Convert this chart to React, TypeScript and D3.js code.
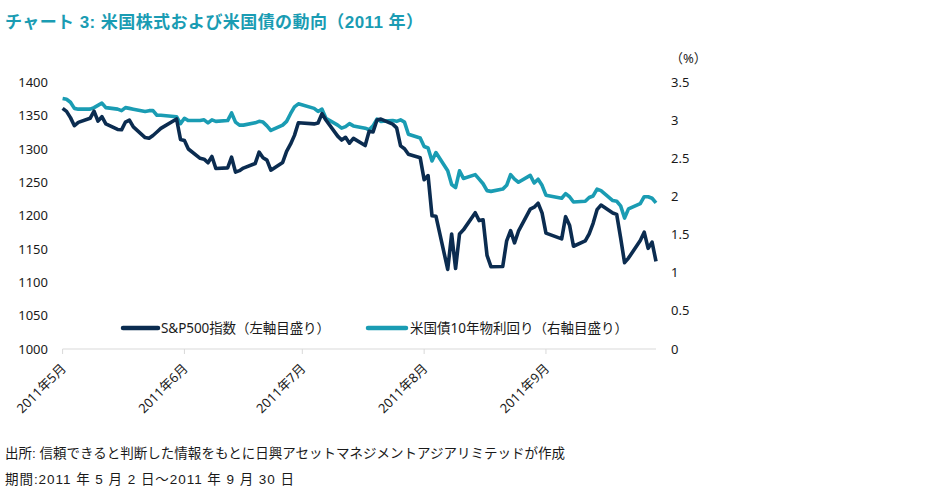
import React from "react";
import * as d3 from "d3";

const dates: string[] = [
  "2011-05-02","2011-05-03","2011-05-04","2011-05-05","2011-05-06","2011-05-09","2011-05-10","2011-05-11","2011-05-12","2011-05-13",
  "2011-05-16","2011-05-17","2011-05-18","2011-05-19","2011-05-20","2011-05-23","2011-05-24","2011-05-25","2011-05-26","2011-05-27","2011-05-31",
  "2011-06-01","2011-06-02","2011-06-03","2011-06-06","2011-06-07","2011-06-08","2011-06-09","2011-06-10","2011-06-13","2011-06-14",
  "2011-06-15","2011-06-16","2011-06-17","2011-06-20","2011-06-21","2011-06-22","2011-06-23","2011-06-24","2011-06-27","2011-06-28","2011-06-29","2011-06-30",
  "2011-07-01","2011-07-05","2011-07-06","2011-07-07","2011-07-08","2011-07-11","2011-07-12","2011-07-13","2011-07-14","2011-07-15",
  "2011-07-18","2011-07-19","2011-07-20","2011-07-21","2011-07-22","2011-07-25","2011-07-26","2011-07-27","2011-07-28","2011-07-29",
  "2011-08-01","2011-08-02","2011-08-03","2011-08-04","2011-08-05","2011-08-08","2011-08-09","2011-08-10","2011-08-11","2011-08-12",
  "2011-08-15","2011-08-16","2011-08-17","2011-08-18","2011-08-19","2011-08-22","2011-08-23","2011-08-24","2011-08-25","2011-08-26",
  "2011-08-29","2011-08-30","2011-08-31",
  "2011-09-01","2011-09-02","2011-09-06","2011-09-07","2011-09-08","2011-09-09","2011-09-12","2011-09-13","2011-09-14","2011-09-15","2011-09-16",
  "2011-09-19","2011-09-20","2011-09-21","2011-09-22","2011-09-23","2011-09-26","2011-09-27","2011-09-28","2011-09-29","2011-09-30",
];

const sp500: number[] = [
  1361.22,1356.62,1347.32,1335.10,1340.20,1346.29,1357.16,1342.08,1348.65,1337.77,
  1329.47,1328.98,1340.68,1343.60,1333.27,1317.37,1316.28,1320.47,1325.69,1331.10,1345.20,
  1314.55,1312.94,1300.16,1286.17,1284.94,1279.56,1289.00,1270.98,1271.83,1287.87,
  1265.42,1267.64,1271.50,1278.36,1295.52,1287.14,1283.50,1268.45,1280.10,1296.67,1307.41,1320.64,
  1339.67,1337.88,1339.22,1353.22,1343.80,1319.49,1313.64,1317.72,1308.87,1316.14,
  1305.44,1326.73,1325.84,1343.80,1345.02,1337.43,1331.94,1304.89,1300.67,1292.28,
  1286.94,1254.05,1260.34,1200.07,1199.38,1119.46,1172.53,1120.76,1172.64,1178.81,
  1204.49,1192.76,1193.89,1140.65,1123.53,1123.82,1162.35,1177.60,1159.27,1176.80,
  1210.08,1212.92,1218.89,
  1204.42,1173.97,1165.24,1198.62,1185.90,1154.23,1162.27,1172.87,1188.68,1209.11,1216.01,
  1204.09,1202.09,1166.76,1129.56,1136.43,1162.95,1175.38,1151.06,1160.40,1131.42,
];

const ust10y: number[] = [
  3.29,3.28,3.24,3.16,3.15,3.15,3.17,3.20,3.23,3.17,
  3.15,3.13,3.17,3.16,3.15,3.12,3.13,3.13,3.07,3.07,3.05,
  2.96,3.03,3.00,3.00,3.01,2.97,3.01,2.99,3.00,3.10,
  2.98,2.94,2.94,2.97,2.99,2.98,2.93,2.87,2.94,2.99,3.09,3.18,
  3.22,3.16,3.12,3.15,3.03,2.94,2.90,2.92,2.96,2.93,
  2.90,2.88,2.93,3.02,2.99,3.00,2.99,3.01,2.98,2.82,
  2.77,2.66,2.64,2.47,2.58,2.34,2.16,2.12,2.34,2.24,
  2.29,2.23,2.17,2.08,2.07,2.10,2.15,2.29,2.23,2.19,
  2.28,2.18,2.23,
  2.15,2.02,1.98,2.04,2.00,1.93,1.94,1.99,2.01,2.10,2.08,
  1.95,1.94,1.88,1.72,1.84,1.91,2.00,2.00,1.98,1.92,
];

const leftTicks: number[] = [1000, 1050, 1100, 1150, 1200, 1250, 1300, 1350, 1400];
const rightTicks: number[] = [0, 0.5, 1, 1.5, 2, 2.5, 3, 3.5];
const xTickDates: string[] = ["2011-05-02", "2011-06-02", "2011-07-02", "2011-08-02", "2011-09-02"];
const xTickLabels: string[] = ["2011年5月", "2011年6月", "2011年7月", "2011年8月", "2011年9月"];

const titleText = "チャート 3: 米国株式および米国債の動向（2011 年）";
const legendLabels: string[] = ["S&P500指数（左軸目盛り）", "米国債10年物利回り（右軸目盛り）"];
const footer1 = "出所: 信頼できると判断した情報をもとに日興アセットマネジメントアジアリミテッドが作成";
const footer2 = "期間:2011 年 5 月 2 日～2011 年 9 月 30 日";

const NAVY = "#0b2c50";
const TEAL = "#1a9cb3";

export default function App() {
  const W = 926, H = 493;
  const parse = (s: string) => new Date(s + "T00:00:00Z");
  const x = d3.scaleUtc().domain([parse("2011-05-02"), parse("2011-09-30")]).range([62.6, 656]);
  const yL = d3.scaleLinear().domain([1000, 1400]).range([349, 82.5]);
  const yR = d3.scaleLinear().domain([0, 3.5]).range([349, 82.5]);

  const spLine = d3.line<number>()
    .x((_, i) => x(parse(dates[i])))
    .y((d) => yL(d));
  const ylLine = d3.line<number>()
    .x((_, i) => x(parse(dates[i])))
    .y((d) => yR(d));

  const axisFont = "'Noto Sans', 'Noto Sans CJK JP', sans-serif";
  const cjkFont = "'Liberation Sans', 'Noto Sans CJK JP', sans-serif";

  return (
    <svg width={W} height={H} style={{ position: "absolute", left: 0, top: 0, background: "#fff" }}>
      <text x={5} y={28} fontFamily={cjkFont} fontWeight="bold" fontSize={17} fill={TEAL} textLength={418} lengthAdjust="spacing">{titleText}</text>

      {leftTicks.map((t) => (
        <text key={"l" + t} x={48} y={yL(t)} dy="0.35em" textAnchor="end" fontFamily={axisFont} fontSize={13} fill="#1a1a1a">{t}</text>
      ))}
      {rightTicks.map((t) => (
        <text key={"r" + t} x={671} y={yR(t)} dy="0.35em" textAnchor="start" fontFamily={axisFont} fontSize={13} fill="#1a1a1a">{t}</text>
      ))}
      <text x={670} y={58} dy="0.35em" fontFamily={axisFont} fontSize={13} fill="#1a1a1a">（%）</text>

      <line x1={62.6} x2={656} y1={349} y2={349} stroke="#d9d9d9" strokeWidth={1} />
      {xTickDates.map((d, i) => {
        const tx = x(parse(d));
        return (
          <g key={d}>
            <line x1={tx} x2={tx} y1={349} y2={354} stroke="#d9d9d9" strokeWidth={1} />
            <text transform={`translate(${tx + 1},${366}) rotate(-45)`} dy="0.35em" textAnchor="end" fontFamily={axisFont} fontSize={13} fill="#1a1a1a">{xTickLabels[i]}</text>
          </g>
        );
      })}

      <path d={ylLine(ust10y) || ""} fill="none" stroke={TEAL} strokeWidth={3.6} strokeLinejoin="round" />
      <path d={spLine(sp500) || ""} fill="none" stroke={NAVY} strokeWidth={3.6} strokeLinejoin="round" />

      <line x1={123} x2={158} y1={328} y2={328} stroke={NAVY} strokeWidth={4.5} strokeLinecap="round" />
      <text x={161} y={328} dy="0.35em" fontFamily={axisFont} fontSize={13.5} fill="#1a1a1a" textLength={169} lengthAdjust="spacing">{legendLabels[0]}</text>
      <line x1={368} x2={406} y1={328} y2={328} stroke={TEAL} strokeWidth={4.5} strokeLinecap="round" />
      <text x={410} y={328} dy="0.35em" fontFamily={axisFont} fontSize={13.5} fill="#1a1a1a" textLength={218} lengthAdjust="spacing">{legendLabels[1]}</text>

      <text x={5} y={458} fontFamily={cjkFont} fontSize={13.5} fill="#1a1a1a" textLength={560} lengthAdjust="spacing">{footer1}</text>
      <text x={5} y={484} fontFamily={cjkFont} fontSize={13.5} fill="#1a1a1a" textLength={289} lengthAdjust="spacing">{footer2}</text>
    </svg>
  );
}
